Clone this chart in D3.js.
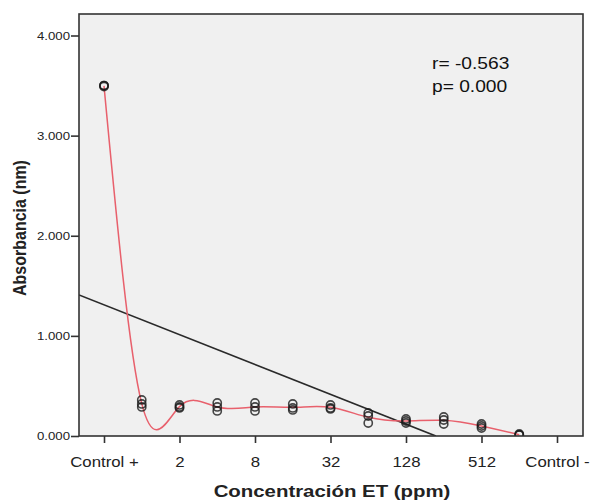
<!DOCTYPE html>
<html><head><meta charset="utf-8">
<script src="https://cdn.jsdelivr.net/npm/d3@7"></script>
<style>body{margin:0;background:#fff}svg{display:block}text{font-family:"Liberation Sans",Arial,sans-serif}</style>
</head><body><svg id="c" width="590" height="501"></svg>
<script>
const categories = ["Control +","1","2","4","8","16","32","64","128","256","512","1024","Control -"];
const tickLabels = ["Control +","2","8","32","128","512","Control -"];
const yTicks = [0,1,2,3,4];
const obs = [
  [3.50,3.50,3.49],
  [0.36,0.32,0.29],
  [0.31,0.29,0.28],
  [0.33,0.29,0.25],
  [0.33,0.29,0.25],
  [0.32,0.28,0.26],
  [0.31,0.28,0.27],
  [0.23,0.20,0.13],
  [0.17,0.15,0.13],
  [0.19,0.16,0.12],
  [0.12,0.10,0.08],
  [0.02,0.01,0.01],
  []
];
const regression = {intercept:1.31, slope:-0.149};
const stats = ["r= -0.563","p= 0.000"];

const SX = 1.2; // horizontal text stretch seen in the reference
const svg = d3.select("#c");
const L=79,R=583,T=14,B=436;
const x = d3.scaleLinear().domain([0,12]).range([104,557]);
const y = d3.scaleLinear().domain([0,4]).range([B,35.5]);
const xMin = x.invert(L);

svg.append("rect").attr("x",L).attr("y",T).attr("width",R-L).attr("height",B-T).attr("fill","#f0f0f0");
svg.append("defs").append("clipPath").attr("id","cp").append("rect").attr("x",L).attr("y",T).attr("width",R-L).attr("height",B-T);

// regression line
const rx0 = xMin, rx1 = -regression.intercept/regression.slope;
svg.append("line").attr("clip-path","url(#cp)")
  .attr("x1",x(rx0)).attr("y1",y(regression.intercept+regression.slope*rx0))
  .attr("x2",x(rx1)).attr("y2",y(regression.intercept+regression.slope*rx1))
  .attr("stroke","#2a2a2a").attr("stroke-width",1.7);

// interpolation line through means
const means = obs.map((v,i)=>v.length?{i,m:d3.mean(v)}:null).filter(d=>d);
svg.append("path").attr("clip-path","url(#cp)").datum(means)
  .attr("d",d3.line().x(d=>x(d.i)).y(d=>y(d.m)).curve(d3.curveNatural))
  .attr("fill","none").attr("stroke","#e8606c").attr("stroke-width",1.5);

// points
const pts = obs.flatMap((v,i)=>v.map(val=>({i,val})));
svg.append("g").attr("clip-path","url(#cp)").selectAll("circle").data(pts).join("circle")
  .attr("cx",d=>x(d.i)).attr("cy",d=>y(d.val)).attr("r",4.1)
  .attr("fill","none").attr("stroke","#1a1a1a").attr("stroke-width",1.6).attr("stroke-opacity",0.8);

// frame
svg.append("rect").attr("x",L).attr("y",T).attr("width",R-L).attr("height",B-T).attr("fill","none").attr("stroke","#333").attr("stroke-width",1.6);

// y axis
const ya = svg.append("g").attr("transform",`translate(${L},0)`)
  .call(d3.axisLeft(y).tickValues(yTicks).tickSize(8).tickPadding(0).tickFormat(d3.format(".3f")));
ya.select(".domain").remove();
ya.selectAll("line").attr("stroke","#333").attr("stroke-width",1.6);
ya.selectAll("text").attr("x",-9/SX).attr("transform",`scale(${SX},1)`).attr("font-size",11).attr("fill","#222").style("font-family","Liberation Sans, Arial, sans-serif");

// x axis
const xa = svg.append("g").attr("transform",`translate(0,${B})`)
  .call(d3.axisBottom(x).tickValues(d3.range(0,13,2)).tickSize(7).tickPadding(14)
  .tickFormat((d,k)=>tickLabels[k]));
xa.select(".domain").remove();
xa.selectAll("line").attr("stroke","#333").attr("stroke-width",1.6);
xa.selectAll("text").attr("transform",`scale(${SX},1)`).attr("font-size",14).attr("fill","#222").style("font-family","Liberation Sans, Arial, sans-serif");

// titles
svg.append("text").attr("transform",`translate(26,228) rotate(-90) scale(1,${SX})`).attr("text-anchor","middle")
  .attr("font-size",16).attr("font-weight","bold").attr("fill","#222").text("Absorbancia (nm)");
svg.append("text").attr("transform",`translate(332,497) scale(${SX},1)`).attr("text-anchor","middle")
  .attr("font-size",17).attr("font-weight","bold").attr("fill","#222").text("Concentración ET (ppm)");

// stats
svg.selectAll(".st").data(stats).join("text").attr("class","st")
  .attr("transform",(d,i)=>`translate(432,${69+i*23}) scale(${SX},1)`).attr("font-size",16).attr("fill","#111").text(d=>d);
</script></body></html>
